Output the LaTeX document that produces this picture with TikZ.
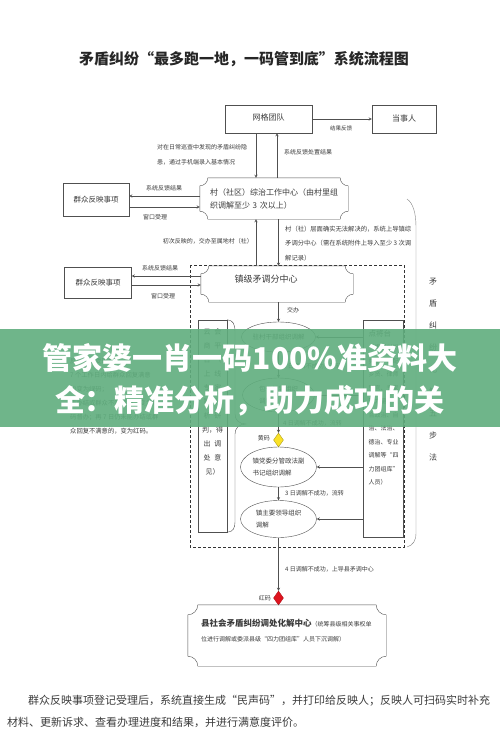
\documentclass[tikz,border=0pt]{standalone}
\usepackage{fontspec}
\setmainfont{Noto Sans CJK SC}
\usepackage{xcolor}
\usetikzlibrary{shapes.geometric, arrows}
\usetikzlibrary{positioning}
\definecolor{lnc}{HTML}{505050}
\definecolor{txtc}{HTML}{3C3C3C}
\definecolor{bannerg}{RGB}{96,174,126}
\definecolor{codey}{RGB}{250,226,40}
\definecolor{coder}{RGB}{222,20,30}
\tikzstyle{arrow} = [thin,draw=lnc,->,>=stealth]
\tikzstyle{box} = [draw=lnc, rectangle, inner sep=0pt, text=txtc]
\tikzstyle{plq} = [rectangle, inner sep=0pt, text=txtc]
\tikzstyle{frame} = [draw=lnc, thin]
\tikzstyle{dashbox} = [draw=black!80, line width=0.9pt, dash pattern=on 3pt off 2pt]
\tikzstyle{ell} = [draw=lnc, ellipse, inner sep=0pt, align=left, text=txtc, font=\fontsize{6.5}{11.5}\selectfont]
\tikzstyle{lbl} = [inner sep=0pt, text=txtc, font=\fontsize{6}{7}\selectfont]
\tikzstyle{code} = [diamond, inner sep=0pt, minimum width=10pt, minimum height=14pt]
\newcommand{\cgap}{\hspace{4pt}}
% frame with concave corners round a named node
\newcommand{\plaque}[2]{%
  \draw[frame] ([xshift=#2pt]#1.north west) -- ([xshift=-#2pt]#1.north east)
    .. controls ([xshift=-#2pt,yshift={-0.55*#2pt}]#1.north east) and ([xshift={-0.55*#2pt},yshift=-#2pt]#1.north east) .. ([yshift=-#2pt]#1.north east)
    -- ([yshift=#2pt]#1.south east)
    .. controls ([xshift={-0.55*#2pt},yshift=#2pt]#1.south east) and ([xshift=-#2pt,yshift={0.55*#2pt}]#1.south east) .. ([xshift=-#2pt]#1.south east)
    -- ([xshift=#2pt]#1.south west)
    .. controls ([xshift=#2pt,yshift={0.55*#2pt}]#1.south west) and ([xshift={0.55*#2pt},yshift=#2pt]#1.south west) .. ([yshift=#2pt]#1.south west)
    -- ([yshift=-#2pt]#1.north west)
    .. controls ([xshift={0.55*#2pt},yshift=-#2pt]#1.north west) and ([xshift=#2pt,yshift={-0.55*#2pt}]#1.north west) .. ([xshift=#2pt]#1.north west)
    -- cycle;}

\begin{document}
\begin{tikzpicture}[x=1pt,y=-1pt]
    \useasboundingbox[fill=white] (0,0) rectangle (500,756);

    % title
    \node[font=\fontsize{15}{18}\selectfont\bfseries, text=black!85] (title) at (244,59) {矛盾纠纷“最多跑一地，一码管到底”系统流程图};

    % grid team and village
    \node[box, minimum width=87pt, minimum height=28pt, font=\fontsize{8}{9}\selectfont] (wangge) at (268.5,119) {\raisebox{3pt}{网格团队}};
    \node[box, minimum width=64pt, minimum height=28pt, font=\fontsize{8}{9}\selectfont] (dangshi) at (404,119) {\raisebox{2pt}{当事人}};
    \draw[arrow] (wangge.east) -- (dangshi.west);
    \node[lbl, font=\fontsize{5.5}{6}\selectfont] (jgfk) at (341,128) {结果反馈};

    \node[plq, minimum width=148pt, minimum height=41pt, text width=128pt, align=left, font=\fontsize{8}{13}\selectfont] (cun) at (274,198.5) {村（社区）综治工作中心（由村里组\\织调解至少 3 次以上）};
    \plaque{cun}{8}
    \draw[arrow] (wangge.south -| 256,0) -- (cun.north -| 256,0);
    \draw[arrow] (cun.north -| 277,0) -- (wangge.south -| 277,0);
    \node[lbl, anchor=west, align=left, font=\fontsize{6}{14.5}\selectfont] (xuncha) at (157,155) {对在日常巡查中发现的矛盾纠纷隐\\患，通过手机端录入基本情况};
    \node[lbl, anchor=west] (fkcz) at (284,152) {系统反馈处置结果};

    \node[box, minimum width=66pt, minimum height=33pt, font=\fontsize{7.5}{9}\selectfont] (qz1) at (96,199.5) {群众反映事项};
    \draw[arrow] (cun.west |- 0,196) -- (qz1.east |- 0,196);
    \draw[arrow] (qz1.east |- 0,207) -- (cun.west |- 0,207);
    \node[lbl] (fk1) at (164,188) {系统反馈结果};
    \node[lbl] (sl1) at (155,217) {窗口受理};

    % town level
    \draw[dashbox] (190,265) rectangle (404,547);
    \node[plq, minimum width=152pt, minimum height=36pt] (zhen) at (277,284) {};
    \plaque{zhen}{8}
    \node[lbl, font=\fontsize{9}{10}\selectfont] (zhentxt) at (266,279) {镇级矛调分中心};
    \draw[arrow] (zhen.north -| 256,0) -- (cun.south -| 256,0);
    \node[lbl, anchor=east] (chuci) at (253,241) {初次反映的，交办至属地村（社）};
    \draw[arrow] (cun.south -| 278.5,0) -- (zhen.north -| 278.5,0);
    \node[lbl, anchor=west, align=left, font=\fontsize{6.3}{14.5}\selectfont] (shangdao) at (285,243.5) {村（社）层面确实无法解决的，系统上导镇综\\矛调分中心（需在系统附件上导入至少 3 次调\\解记录）};

    \node[box, minimum width=67pt, minimum height=31pt, font=\fontsize{7.5}{9}\selectfont] (qz2) at (98,282.5) {群众反映事项};
    \draw[arrow] (zhen.west |- 0,276) -- (qz2.east |- 0,276);
    \draw[arrow] (qz2.east |- 0,285) -- (zhen.west |- 0,285);
    \node[lbl] (fk2) at (160,268) {系统反馈结果};
    \node[lbl] (sl2) at (163,296) {窗口受理};
    \node[lbl, anchor=west, align=left, font=\fontsize{6.3}{14}\selectfont] (mazhuan) at (70,396) {反映事项受理后，\\7 个工作日内给群众回复满意\\的变为绿码；\\未办结或群众不满意的，变为黄\\码督办；再 7 日仍未能办结或群\\众回复不满意的，变为红码。};

    % mediation steps
    \node[ell, minimum width=74pt, minimum height=30pt] (e1) at (278.5,337) {驻村干部组织调解};
    \node[ell, minimum width=72pt, minimum height=34pt] (e2) at (278.5,395) {包干领导组织\\调解};
    \node[code, fill=codey, draw=codey!70!black] (huang) at (278.5,440) {};
    \node[ell, minimum width=76pt, minimum height=40pt] (e3) at (278.5,467) {镇党委分管政法副\\书记组织调解};
    \node[ell, minimum width=76pt, minimum height=37pt] (e4) at (278.5,519) {镇主要领导组织\\调解};
    \node[code, fill=coder, draw=coder!80!black] (hong) at (278.5,598) {};

    \draw[arrow] (zhen.south -| e1.north) -- (e1.north);
    \node[lbl] (jiaoban) at (293,310) {交办};
    \draw[arrow] (e1) -- (e2);
    \node[lbl, anchor=west] (liu5) at (283,366) {5 日调解不成功，流转};
    \draw[arrow] (e2) -- (huang);
    \node[lbl, anchor=west] (liu4) at (283,423) {4 日调解不成功，流转};
    \node[lbl, anchor=east] (huangma) at (270,438) {黄码};
    \draw[arrow] (e3) -- (e4);
    \node[lbl, anchor=west] (liu3) at (285,493) {3 日调解不成功，流转};
    \draw[arrow] (e4) -- (hong);
    \node[lbl, anchor=west] (shangxian) at (285,569) {4 日调解不成功，上导县矛调中心};
    \node[lbl, anchor=east] (hongma) at (271,598) {红码};

    % side boxes
    \node[box, minimum width=29pt, minimum height=212pt] (yun) at (212.5,426) {};
    \node[lbl, align=center, font=\fontsize{7}{14}\selectfont] (yuntxt) at (212.5,402) {云\cgap 会\\商\cgap 平\\台\cgap （\\上\cgap 线\\专\cgap 家\\等\cgap 分\\析\cgap 研\\判，得\\出\cgap 调\\处\cgap 意\\见）};
    \draw[frame] (yun.north east) .. controls (233,320) and (235,324) .. (235,332) -- (235,414)
        .. controls (235,420) and (239,424) .. (246,424) .. controls (239,424) and (235,428) .. (235,434)
        -- (235,522) .. controls (235,528) and (233,532) .. (yun.south east);

    \node[box, minimum width=40pt, minimum height=217pt] (dianjiang) at (383,428.5) {};
    \node[lbl, anchor=west, align=left, font=\fontsize{6}{13.5}\selectfont] (djtxt) at (368.5,407.5) {{\fontsize{7.5}{13.5}\selectfont 点将台}\\（根据纠纷\\类型，调配\\乡贤、律师\\警官、专家\\等力量，融\\合政治、自\\治、法治、\\德治、专业\\调解等“四\\力团组库”\\人员）};
    \draw[arrow] (dianjiang.west |- e1.east) -- (e1.east);
    \draw[arrow] (dianjiang.west |- e2.east) -- (e2.east);
    \draw[arrow] (dianjiang.west |- e3.east) -- (e3.east);
    \draw[arrow] (dianjiang.west |- e4.east) -- (e4.east);

    \draw[frame, draw=lnc!70] (407,199) .. controls (413,203) and (416,213) .. (416,227) -- (416,533)
        .. controls (416,541) and (413,545) .. (407,547);
    \node[lbl, align=center, font=\fontsize{8}{22}\selectfont] (wubu) at (433,370) {矛\\盾\\纠\\纷\\化\\解\\五\\步\\法};

    % county level
    \node[plq, minimum width=198pt, minimum height=61pt] (xian) at (287,635.5) {};
    \plaque{xian}{10}
    \node[lbl, anchor=west, align=left, font=\fontsize{6}{15}\selectfont] (xiantxt) at (201,630.5) {{\fontsize{8.5}{15}\selectfont\bfseries 县社会矛盾纠纷调处化解中心}（统筹县级相关事权单\\位进行调解或委派县级“四力团组库”人员下沉调解）};

    % note under the chart
    \node[anchor=west, align=left, inner sep=0pt, text=txtc, font=\fontsize{11}{22}\selectfont] (shuoming) at (7,711) {\hspace*{21pt}群众反映事项登记受理后，系统直接生成“民声码”，并打印给反映人；反映人可扫码实时补充\\材料、更新诉求、查看办理进度和结果，并进行满意度评价。};

    % banner over the picture
    \fill[bannerg, fill opacity=0.9] (0,329) rectangle (500,427);
    \node[text=white, font=\fontsize{30}{42}\selectfont\bfseries, align=center, inner sep=0pt] (banner) at (250,379.5) {管家婆一肖一码100\%准资料大\\全：精准分析，助力成功的关};
\end{tikzpicture}
\end{document}
